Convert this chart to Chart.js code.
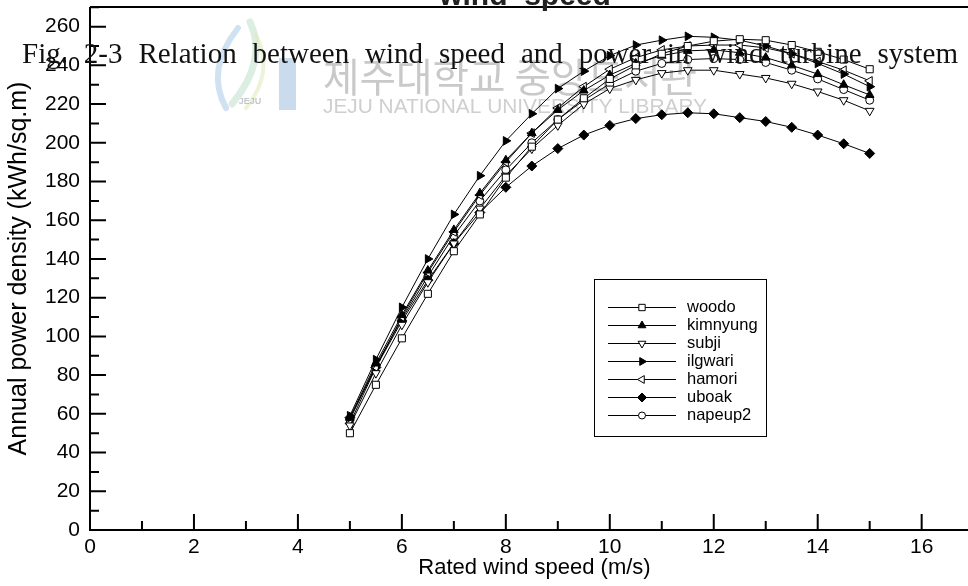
<!DOCTYPE html>
<html><head><meta charset="utf-8">
<script src="https://cdn.jsdelivr.net/npm/chart.js@4/dist/chart.umd.min.js"></script>
<style>
html,body{margin:0;padding:0;background:#fff;overflow:hidden;width:968px;height:586px}
#wrap{position:absolute;left:0;top:0;width:985px;height:586px}
</style></head><body><div id="wrap"><canvas id="c" width="985" height="586"></canvas></div>
<script>
// ---- data ----
const windSpeed = [5,5.5,6,6.5,7,7.5,8,8.5,9,9.5,10,10.5,11,11.5,12,12.5,13,13.5,14,14.5,15];
const woodo    = [50,75,99,122,144,163,182,198,212,223,233,240,246,250,252.5,253.5,253,250.5,247,243,238];
const kimnyung = [58,86,111,134,155,174,191,205,217,227,235,241,245,247.5,248,246.5,244,240,235.5,230,224.7];
const subji    = [54,81,106,128,148,166,183,197,209,220,228,232.5,236,237.5,237.5,235.5,233.5,230.5,226.5,222,216.5];
const ilgwari  = [59,88,115,140,163,183,201,215,228,237,245,250.5,253,255,254.5,253,250,246,241,235.5,229];
const hamori   = [55,84,110,133,154,173,190,205,218,229,238,244,248,250,250.5,250.5,249,246,242,237.5,232];
const uboak    = [58,84,108,129,148,164,177,188,197,204,209,212.5,214.5,215.5,215,213,211,208,204,199.5,194.5];
const napeup2  = [57,85,109,131,152,170,186,200,212,222,230.5,237,241,243,243.5,243,241.5,237.5,233,227.5,222];
const seriesNames = ['woodo','kimnyung','subji','ilgwari','hamori','uboak','napeup2'];
const seriesValues = [woodo,kimnyung,subji,ilgwari,hamori,uboak,napeup2];
const xTickLabels = [0,2,4,6,8,10,12,14,16];
const yTickLabels = [0,20,40,60,80,100,120,140,160,180,200,220,240,260];
const xMinorTicks = [1,3,5,7,9,11,13,15,17];
const yMinorTicks = [10,30,50,70,90,110,130,150,170,190,210,230,250,270];
const xTitle = 'Rated wind speed (m/s)';
const yTitle = 'Annual power density (kWh/sq.m)';
const chartTitle = 'wind  speed';
const caption = 'Fig. 2-3 Relation between wind speed and power in wind turbine system';
const watermarkKo = '제주대학교 중앙도서관';
const watermarkEn = 'JEJU NATIONAL UNIVERSITY LIBRARY';

// ---- styles ----
const markers = [
  {style:'rect', rot:0, fill:'#fff', r:5},
  {style:'triangle', rot:0, fill:'#000', r:5},
  {style:'triangle', rot:180, fill:'#fff', r:5},
  {style:'triangle', rot:90, fill:'#000', r:5},
  {style:'triangle', rot:-90, fill:'#fff', r:5},
  {style:'rectRot', rot:0, fill:'#000', r:5},
  {style:'circle', rot:0, fill:'#fff', r:4}
];

const datasets = seriesNames.map((n,i)=>({
  label:n,
  data: windSpeed.map((x,j)=>({x:x, y:seriesValues[i][j]})),
  showLine:true, tension:0,
  borderColor:'#000', borderWidth:1,
  pointStyle:markers[i].style, pointRotation:markers[i].rot,
  pointRadius:markers[i].r, pointHoverRadius:markers[i].r,
  pointBackgroundColor:markers[i].fill, pointBorderColor:'#000', pointBorderWidth:1,
  backgroundColor:markers[i].fill
}));

const decor = {
  id:'decor',
  beforeDatasetsDraw(chart){
    const ctx = chart.ctx;
    ctx.save();
    // logo (faint)
    ctx.globalAlpha = 0.55;
    ctx.lineCap = 'round';
    ctx.strokeStyle = '#bfe0c8'; ctx.lineWidth = 7;
    ctx.beginPath(); ctx.moveTo(250,22); ctx.quadraticCurveTo(268,60,232,104); ctx.stroke();
    ctx.strokeStyle = '#a9cbe6'; ctx.lineWidth = 6;
    ctx.beginPath(); ctx.moveTo(238,28); ctx.quadraticCurveTo(205,70,226,108); ctx.stroke();
    ctx.strokeStyle = '#dfe9b8'; ctx.lineWidth = 4;
    ctx.beginPath(); ctx.moveTo(256,35); ctx.quadraticCurveTo(275,72,246,108); ctx.stroke();
    ctx.fillStyle = '#9fbde0';
    ctx.fillRect(279,58,17,52);
    ctx.globalAlpha = 0.6;
    ctx.fillStyle = '#9aa3ad';
    ctx.font = 'bold 9px "Liberation Sans"';
    ctx.textAlign='center'; ctx.textBaseline='middle';
    ctx.fillText('JEJU', 250, 102);
    ctx.globalAlpha = 1;
    // Korean watermark
    ctx.fillStyle = '#c9c9c9';
    ctx.textAlign='left'; ctx.textBaseline='alphabetic';
    ctx.font = '40px "Noto Sans CJK KR"';
    let w = ctx.measureText(watermarkKo).width;
    ctx.save(); ctx.translate(323,92); ctx.scale(374/w,1); ctx.fillText(watermarkKo,0,0); ctx.restore();
    ctx.fillStyle = '#cfcfcf';
    ctx.font = '21px "Liberation Sans"';
    w = ctx.measureText(watermarkEn).width;
    ctx.save(); ctx.translate(323,113); ctx.scale(384/w,1); ctx.fillText(watermarkEn,0,0); ctx.restore();
    ctx.restore();
  },
  afterDraw(chart){
    const ctx = chart.ctx, a = chart.chartArea;
    const xs = chart.scales.x, ys = chart.scales.y;
    ctx.save();
    ctx.strokeStyle = '#000'; ctx.lineWidth = 2;
    // axes + top border
    ctx.beginPath();
    ctx.moveTo(a.left, a.top); ctx.lineTo(a.left, a.bottom); ctx.lineTo(a.right, a.bottom);
    ctx.moveTo(a.left, a.top); ctx.lineTo(a.right, a.top);
    ctx.stroke();
    // inward ticks
    ctx.beginPath();
    xTickLabels.forEach(v=>{const p=xs.getPixelForValue(v); ctx.moveTo(p,a.bottom); ctx.lineTo(p,a.bottom-16);});
    xMinorTicks.forEach(v=>{const p=xs.getPixelForValue(v); ctx.moveTo(p,a.bottom); ctx.lineTo(p,a.bottom-9);});
    yTickLabels.forEach(v=>{const p=ys.getPixelForValue(v); ctx.moveTo(a.left,p); ctx.lineTo(a.left+16,p);});
    yMinorTicks.forEach(v=>{const p=ys.getPixelForValue(v); ctx.moveTo(a.left,p); ctx.lineTo(a.left+9,p);});
    ctx.stroke();
    // legend
    ctx.lineWidth = 1;
    ctx.strokeRect(594.5,279.5,172,157);
    ctx.font = '16.5px "Liberation Sans"'; ctx.textBaseline='middle'; ctx.textAlign='left'; ctx.fillStyle='#000';
    seriesNames.forEach((n,i)=>{
      const y = 307.5 + i*18;
      ctx.beginPath(); ctx.moveTo(608,y); ctx.lineTo(676,y); ctx.strokeStyle='#000'; ctx.lineWidth=1; ctx.stroke();
      ctx.fillStyle = markers[i].fill; ctx.strokeStyle='#000';
      Chart.helpers.drawPoint(ctx,{pointStyle:markers[i].style, rotation:markers[i].rot, radius:markers[i].r-0.5, borderWidth:1}, 642, y);
      ctx.fillStyle='#000';
      ctx.fillText(n, 687, y);
    });
    // partial title at top
    ctx.font = 'bold 30px "Liberation Sans"'; ctx.textAlign='center'; ctx.textBaseline='alphabetic';
    ctx.fillStyle='#222';
    ctx.fillText(chartTitle, 525, 5);
    // caption, justified
    ctx.font = '29px "Liberation Serif"'; ctx.textAlign='left'; ctx.fillStyle='#111';
    const words = caption.split(' ');
    const ws = words.map(t=>ctx.measureText(t).width);
    const tot = ws.reduce((s,v)=>s+v,0);
    const x0 = 22, x1 = 958;
    const gap = (x1-x0-tot)/(words.length-1);
    let x = x0;
    words.forEach((t,i)=>{ctx.fillText(t,x,63); x += ws[i]+gap;});
    ctx.restore();
  }
};

const zeroPad = s => { s.paddingTop = 0; s.paddingBottom = 0; s.paddingLeft = 0; s.paddingRight = 0; };

new Chart(document.getElementById('c'), {
  type:'scatter',
  data:{datasets},
  options:{
    responsive:false, animation:false, devicePixelRatio:1,
    layout:{padding:{top:7,left:0,right:0,bottom:0}},
    plugins:{legend:{display:false}, tooltip:{enabled:false}},
    scales:{
      x:{type:'linear', min:0, max:(985-90)/52.33,
        afterBuildTicks:s=>{s.ticks = xTickLabels.map(v=>({value:v}));},
        afterFit:s=>{s.height=56; zeroPad(s);},
        grid:{display:false, drawTicks:false}, border:{display:false},
        ticks:{color:'#000', font:{family:'"Liberation Sans"', size:21}, padding:5, maxRotation:0, autoSkip:false, callback:v=>String(v)},
        title:{display:true, text:xTitle, color:'#000', font:{family:'"Liberation Sans"', size:22}, padding:{top:0,bottom:5}}
      },
      y:{type:'linear', min:0, max:(530-7)/1.936,
        afterBuildTicks:s=>{s.ticks = yTickLabels.map(v=>({value:v}));},
        afterFit:s=>{s.width=90; zeroPad(s);},
        grid:{display:false, drawTicks:false}, border:{display:false},
        ticks:{color:'#000', font:{family:'"Liberation Sans"', size:21}, padding:10, autoSkip:false, callback:v=>String(v)},
        title:{display:true, text:yTitle, color:'#000', font:{family:'"Liberation Sans"', size:25}, padding:{top:4,bottom:0}}
      }
    }
  },
  plugins:[decor]
});
</script></body></html>
